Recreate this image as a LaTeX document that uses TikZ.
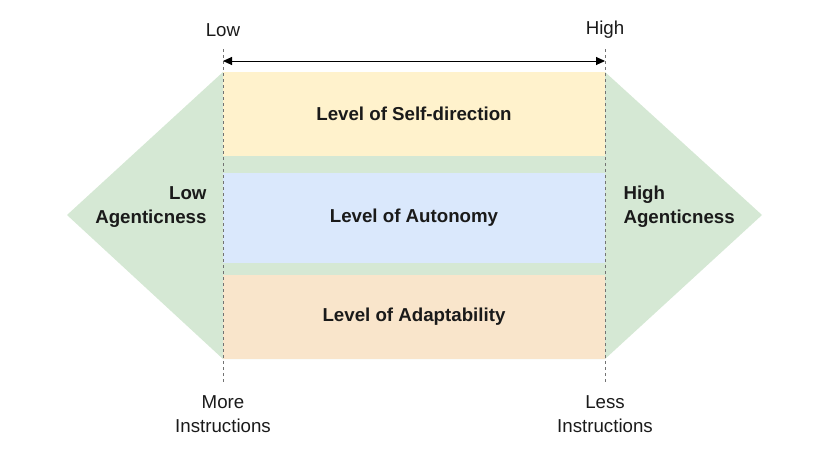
\documentclass[tikz,border=0pt]{standalone}
\usepackage{fontspec}
\setmainfont{Liberation Sans}
\usepackage{tikz}
\usetikzlibrary{arrows.meta,positioning,backgrounds}
\definecolor{agentvert}{HTML}{D5E8D4}
\definecolor{jaune}{HTML}{FFF2CC}
\definecolor{bleuclair}{HTML}{DAE8FC}
\definecolor{orangeclair}{HTML}{F9E5CB}
\definecolor{texte}{HTML}{1A1A1A}

\begin{document}
\begin{tikzpicture}[
  x=1pt, y=-1pt,
  font=\fontsize{18.7}{24.5}\selectfont\color{texte},
  band/.style={minimum width=382pt, inner sep=0pt, outer sep=0pt, font=\fontsize{18.7}{24.5}\selectfont\bfseries\color{texte}},
  guide/.style={draw=black!55, dashed, line width=0.8pt},
  axislabel/.style={align=center, inner sep=0pt},
  agentlabel/.style={font=\fontsize{18.7}{24}\selectfont\bfseries\color{texte}}
]
\useasboundingbox (0,0) rectangle (828,455);

% the three levels
\node[band, fill=jaune, minimum height=84pt] (selfdir) at (414,114) {Level of Self-direction};
\node[band, fill=bleuclair, minimum height=90pt, below=17pt of selfdir] (autonomy) {Level of Autonomy};
\node[band, fill=orangeclair, minimum height=84pt, below=12pt of autonomy] (adapt) {Level of Adaptability};

% agenticness shape behind the levels
\coordinate (lowtip) at (67,215);
\coordinate (hightip) at (762,215);
\begin{scope}[on background layer]
\fill[agentvert] (lowtip) -- (selfdir.north west) -- (selfdir.north east) -- (hightip)
  -- (adapt.south east) -- (adapt.south west) -- cycle;
\end{scope}

\node[agentlabel, align=right, anchor=east] (lowag) at (210,207) {Low\\Agenticness};
\node[agentlabel, align=left, anchor=west] (highag) at (620,207) {High\\Agenticness};

% scale guides
\coordinate (lowtop) at (223,49);
\coordinate (lowbot) at (223,383);
\coordinate (hightop) at (605,49);
\coordinate (highbot) at (605,383);
\draw[guide] (lowtop) -- (lowbot);
\draw[guide] (hightop) -- (highbot);
\coordinate (arrl) at (223,61);
\coordinate (arrr) at (605,61);
\draw[{Triangle[length=9pt,width=8pt]}-{Triangle[length=9pt,width=8pt]}, line width=0.9pt] (arrl) -- (arrr);

\node[axislabel] (low) at (223,30) {Low};
\node[axislabel] (high) at (605,30) {High};
\node[axislabel] (more) at (223,414) {More\\Instructions};
\node[axislabel] (less) at (605,414) {Less\\Instructions};
\end{tikzpicture}
\end{document}
